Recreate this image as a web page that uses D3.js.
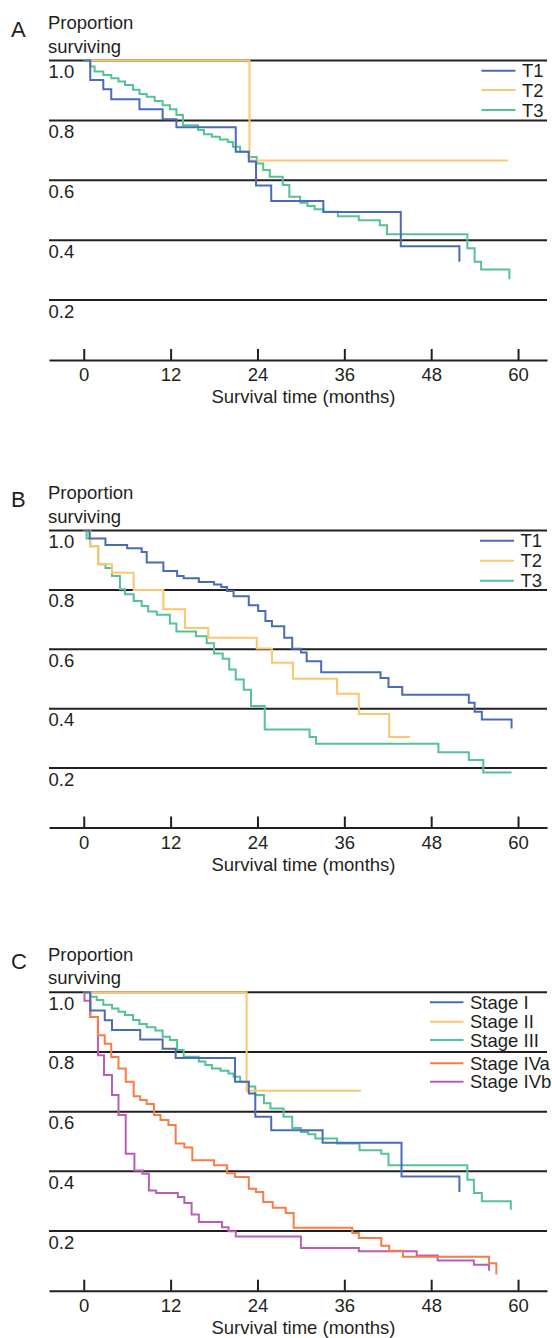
<!DOCTYPE html>
<html>
<head>
<meta charset="utf-8">
<script src="https://cdn.jsdelivr.net/npm/d3@7"></script>
<style>
  body { margin: 0; background: #fff; }
  svg text { font-family: "Liberation Sans", Arial, sans-serif; fill: #231f20; }
</style>
</head>
<body>
<svg id="chart" width="552" height="1338"></svg>
<script>
// ticks
const monthTicks = [0, 12, 24, 36, 48, 60];
const survTicks = [1.0, 0.8, 0.6, 0.4, 0.2];

// panel A: T stage (first cohort)
const aNames = ["T1", "T2", "T3"];
const aT1Time = [0, 0.9, 2.7, 3.8, 7.7, 10.9, 12.8, 21.0, 22.8, 23.8, 25.9, 33.1, 43.8, 51.9];
const aT1Surv = [1, 0.935, 0.904, 0.871, 0.837, 0.804, 0.777, 0.695, 0.663, 0.583, 0.531, 0.494, 0.380, 0.328];
const aT2Time = [0, 22.9, 58.6];
const aT2Surv = [1, 0.666, 0.666];
const aT3Time = [0, 0.9, 1.5, 2.7, 3.8, 4.8, 5.7, 6.8, 7.7, 8.7, 9.8, 10.9, 11.9, 12.8, 13.7, 15.8, 16.6, 17.7, 18.8, 19.9,
                 20.6, 21.6, 22.8, 23.9, 24.8, 25.7, 27.5, 28.4, 29.9, 30.9, 31.9, 33.1, 35.1, 38.0, 40.9, 41.9, 53.0, 54.0, 54.9, 58.8];
const aT3Surv = [1, 0.98, 0.963, 0.952, 0.941, 0.930, 0.918, 0.902, 0.888, 0.879, 0.865, 0.851, 0.837, 0.818, 0.784, 0.768, 0.754, 0.745, 0.736, 0.728,
                 0.712, 0.695, 0.678, 0.656, 0.634, 0.612, 0.584, 0.545, 0.525, 0.514, 0.503, 0.495, 0.480, 0.467, 0.450, 0.420, 0.373, 0.328, 0.302, 0.270];

// panel B: T stage (second cohort)
const bNames = ["T1", "T2", "T3"];
const bT1Time = [0, 0.8, 3.0, 6.0, 8.0, 8.7, 11.0, 12.9, 13.8, 15.9, 18.0, 19.0, 19.8, 20.7, 22.8, 24.1, 25.1, 26.0, 27.7, 28.8,
                 30.0, 30.8, 32.8, 41.0, 42.1, 44.0, 53.2, 54.0, 55.0, 59.1];
const bT1Surv = [1, 0.973, 0.951, 0.94, 0.928, 0.892, 0.864, 0.847, 0.839, 0.827, 0.818, 0.810, 0.796, 0.779, 0.748, 0.729, 0.695, 0.678, 0.639, 0.602,
                 0.589, 0.56, 0.523, 0.503, 0.473, 0.447, 0.42, 0.39, 0.364, 0.333];
const bT2Time = [0, 0.9, 2.0, 3.9, 6.9, 11.0, 14.0, 17.2, 23.9, 26.0, 28.9, 35.0, 38.0, 42.2, 45.1];
const bT2Surv = [1, 0.947, 0.886, 0.858, 0.80, 0.735, 0.672, 0.639, 0.603, 0.555, 0.501, 0.45, 0.382, 0.305, 0.305];
const bT3Time = [0, 0.4, 0.9, 2.0, 3.0, 3.9, 5.0, 5.7, 6.9, 8.0, 8.9, 10.1, 11.9, 12.8, 15.5, 17.0, 18.0, 19.2, 20.1, 21.0,
                 22.1, 23.1, 25.0, 31.2, 32.1, 49.0, 53.2, 55.2, 59.1];
const bT3Surv = [1, 0.973, 0.947, 0.886, 0.874, 0.847, 0.802, 0.785, 0.763, 0.746, 0.727, 0.716, 0.687, 0.66, 0.644, 0.62, 0.586, 0.568, 0.532, 0.498,
                 0.464, 0.409, 0.33, 0.305, 0.282, 0.253, 0.227, 0.185, 0.185];

// panel C: clinical stage
const cNames = ["Stage I", "Stage II", "Stage III", "Stage IVa", "Stage IVb"];
const cS1Time = [0, 0.9, 2.9, 3.9, 7.8, 10.9, 12.7, 20.9, 22.8, 23.7, 25.9, 33.0, 43.9, 51.9];
const cS1Surv = [1, 0.939, 0.906, 0.874, 0.842, 0.811, 0.78, 0.70, 0.661, 0.583, 0.538, 0.496, 0.383, 0.331];
const cS2Time = [0, 22.5, 38.3];
const cS2Surv = [1, 0.67, 0.67];
const cS3Time = [0, 0.9, 1.8, 2.7, 3.9, 4.8, 5.7, 6.8, 7.7, 8.7, 9.9, 10.9, 11.9, 12.9, 13.8, 15.9, 16.8, 17.7, 18.9, 20.0,
                 20.7, 21.6, 22.8, 23.7, 24.9, 25.8, 27.6, 28.8, 30.0, 31.0, 32.0, 35.0, 38.1, 41.1, 42.1, 53.0, 53.9, 55.0, 59.0];
const cS3Surv = [1, 0.985, 0.974, 0.958, 0.946, 0.935, 0.924, 0.907, 0.894, 0.883, 0.872, 0.851, 0.840, 0.807, 0.784, 0.768, 0.756, 0.745, 0.737, 0.728,
                 0.717, 0.70, 0.684, 0.656, 0.628, 0.611, 0.583, 0.545, 0.532, 0.524, 0.51, 0.493, 0.471, 0.459, 0.42, 0.372, 0.327, 0.30, 0.271];
const cS4aTime = [0, 0.9, 1.96, 2.9, 3.8, 4.8, 5.8, 6.9, 7.8, 8.7, 9.7, 10.6, 11.7, 12.7, 13.9, 15.0, 18.0, 19.8, 20.9, 22.8,
                  23.8, 24.8, 26.1, 27.9, 29.0, 37.1, 38.0, 41.1, 42.2, 44.1, 56.0, 57.0];
const cS4aSurv = [1, 0.917, 0.856, 0.828, 0.783, 0.745, 0.70, 0.652, 0.639, 0.626, 0.589, 0.572, 0.555, 0.493, 0.48, 0.437, 0.42, 0.394, 0.381, 0.342,
                  0.331, 0.297, 0.278, 0.26, 0.211, 0.193, 0.177, 0.151, 0.134, 0.114, 0.092, 0.054];
const cS4bTime = [0, 0.1, 0.9, 1.96, 2.8, 3.9, 4.8, 5.8, 7.0, 8.1, 9.0, 10.0, 13.0, 13.9, 14.9, 15.9, 19.1, 20.0, 21.0, 30.0,
                  38.0, 46.0, 48.9, 53.9, 56.0];
const cS4bSurv = [1, 0.972, 0.917, 0.789, 0.723, 0.656, 0.589, 0.459, 0.403, 0.392, 0.336, 0.327, 0.314, 0.294, 0.255, 0.23, 0.213, 0.199, 0.182, 0.143,
                  0.132, 0.118, 0.101, 0.087, 0.067];

const tColors = ["#4a6cb8", "#fbc76e", "#55c296"];
const stageColors = ["#4a6cb8", "#fbc76e", "#55c296", "#f87c45", "#b95eb8"];

const ink = "#231f20";
const fs = "18.5px";
let svg = d3.select("#chart");

let x = d3.scaleLinear().domain([-4.8, 64]).range([49, 547]);

let panels = [
    {letter: "A", top: 60.5, bottom: 360, names: aNames, colors: tColors,
     times: [aT1Time, aT2Time, aT3Time], survs: [aT1Surv, aT2Surv, aT3Surv],
     legX: 481.5, legW: 34, legRows: [10.2, 29.5, 49.5]},
    {letter: "B", top: 530.5, bottom: 827.5, names: bNames, colors: tColors,
     times: [bT1Time, bT2Time, bT3Time], survs: [bT1Surv, bT2Surv, bT3Surv],
     legX: 480, legW: 34, legRows: [10.2, 30.2, 50.2]},
    {letter: "C", top: 992.3, bottom: 1290.7, names: cNames, colors: stageColors,
     times: [cS1Time, cS2Time, cS3Time, cS4aTime, cS4bTime], survs: [cS1Surv, cS2Surv, cS3Surv, cS4aSurv, cS4bSurv],
     legX: 430, legW: 33.5, legRows: [10, 29.4, 47.7, 71, 89.4]}
];

panels.forEach(function(p) {
    let g = svg.append("g");
    let y = d3.scaleLinear().domain([0, 1]).range([p.bottom, p.top]);

    // letter and y title
    g.append("text").attr("x", 11).attr("y", p.top - 23.5)
        .style("font-size", "22px").text(p.letter);
    g.append("text").attr("x", 48).attr("y", p.top - 31.5)
        .style("font-size", fs).text("Proportion");
    g.append("text").attr("x", 48).attr("y", p.top - 8)
        .style("font-size", fs).text("surviving");

    // horizontal reference lines with labels below them
    g.selectAll(".grid").data(survTicks).enter().append("line")
        .attr("x1", 49).attr("x2", 547)
        .attr("y1", function(d) { return y(d); })
        .attr("y2", function(d) { return y(d); })
        .attr("stroke", ink).attr("stroke-width", 2);
    g.selectAll(".ylab").data(survTicks).enter().append("text")
        .attr("x", 48.5)
        .attr("y", function(d) { return y(d) + 17.5; })
        .style("font-size", fs)
        .text(d3.format(".1f"));

    // x axis
    let axis = d3.axisBottom(x).tickValues(monthTicks).tickSize(-11).tickSizeOuter(0).tickPadding(8);
    let ax = g.append("g").attr("transform", "translate(0," + y(0) + ")").call(axis)
        .attr("color", ink).attr("font-size", null).attr("font-family", null);
    ax.select(".domain").attr("stroke-width", 2);
    ax.selectAll(".tick line").attr("stroke-width", 2);
    ax.selectAll(".tick text").style("font-size", fs);

    g.append("text").attr("x", 303.5).attr("y", y(0) + 43)
        .attr("text-anchor", "middle").style("font-size", fs)
        .text("Survival time (months)");

    // survival curves, drawn last series first
    let line = d3.line()
        .x(function(d) { return x(d[0]); })
        .y(function(d) { return y(d[1]); })
        .curve(d3.curveStepAfter);

    for (let i = p.names.length - 1; i >= 0; i--) {
        let pts = p.times[i].map(function(t, j) { return [t, p.survs[i][j]]; });
        g.append("path").datum(pts)
            .attr("d", line)
            .attr("fill", "none")
            .attr("stroke", p.colors[i])
            .attr("stroke-width", 2);
    }

    // legend
    p.names.forEach(function(name, i) {
        let ly = p.top + p.legRows[i];
        g.append("line")
            .attr("x1", p.legX).attr("x2", p.legX + p.legW)
            .attr("y1", ly).attr("y2", ly)
            .attr("stroke", p.colors[i]).attr("stroke-width", 2);
        g.append("text")
            .attr("x", p.legX + p.legW + 6.5).attr("y", ly + 6.5)
            .style("font-size", fs).text(name);
    });
});
</script>
</body>
</html>
